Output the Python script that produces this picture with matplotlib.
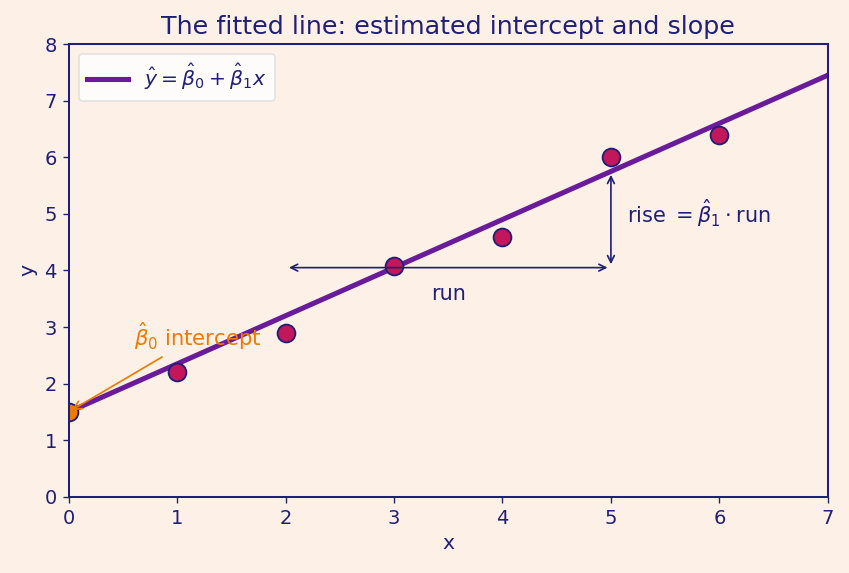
import matplotlib.pyplot as plt
import numpy as np

# data
x_obs = [1, 2, 3, 4, 5, 6]
y_obs = [2.2, 2.9, 4.08, 4.6, 6.0, 6.4]
b0 = 1.5
b1 = 0.85
line_x = [0, 7]
run_x = [2, 5]
run_y = 4.05

BG = "#fdf1e7"
NAVY = "#1f1f7a"
PURPLE = "#6a1b9a"
CRIMSON = "#c2185b"
ORANGE = "#ef7a00"


def main():
    plt.rcParams["text.color"] = NAVY
    plt.rcParams["axes.labelcolor"] = NAVY
    plt.rcParams["xtick.color"] = NAVY
    plt.rcParams["ytick.color"] = NAVY
    plt.rcParams["mathtext.fontset"] = "dejavusans"

    dpi = 122
    fig, ax = plt.subplots(figsize=(849 / dpi, 573 / dpi), dpi=dpi)
    fig.patch.set_facecolor(BG)
    ax.set_facecolor(BG)

    lx = np.array(line_x, dtype=float)
    ax.plot(lx, b0 + b1 * lx, color=PURPLE, lw=3, zorder=2,
            label=r"$\hat{y} = \hat{\beta}_0 + \hat{\beta}_1 x$")
    ax.scatter(x_obs, y_obs, s=110, color=CRIMSON, edgecolor=NAVY,
               linewidth=1.1, zorder=3)
    ax.scatter([0], [b0], s=110, color=ORANGE, edgecolor=NAVY,
               linewidth=1.1, zorder=3)

    # run arrow
    ax.annotate("", xy=(run_x[0], run_y), xytext=(run_x[1], run_y),
                arrowprops=dict(arrowstyle="<->", color=NAVY, lw=1.0),
                zorder=4)
    ax.text(3.5, 3.58, "run", ha="center", va="center", fontsize=12.3)

    # rise arrow
    top = b0 + b1 * run_x[1]
    ax.annotate("", xy=(run_x[1], top), xytext=(run_x[1], run_y),
                arrowprops=dict(arrowstyle="<->", color=NAVY, lw=1.0),
                zorder=4)
    ax.text(5.15, 5.02, r"rise $= \hat{\beta}_1 \cdot \mathrm{run}$",
            ha="left", va="center", fontsize=12.3)

    # intercept
    ax.annotate(r"$\hat{\beta}_0$ intercept", xy=(0, b0),
                xytext=(0.6, 2.84), ha="left", va="center",
                color=ORANGE, fontsize=12.5,
                arrowprops=dict(arrowstyle="->", color=ORANGE, lw=1.0),
                zorder=4)

    ax.set_xlim(0, 7)
    ax.set_ylim(0, 8)
    ax.set_xticks(range(0, 8))
    ax.set_yticks(range(0, 9))
    ax.tick_params(labelsize=11.5)
    for s in ax.spines.values():
        s.set_color(NAVY)
        s.set_linewidth(1.2)
        s.set_zorder(5)
    ax.set_xlabel("x", fontsize=12)
    ax.set_ylabel("y", fontsize=12)
    ax.set_title("The fitted line: estimated intercept and slope",
                 fontsize=15, color=NAVY)

    leg = ax.legend(loc="upper left", fontsize=12, framealpha=0.8,
                    facecolor="white", edgecolor="#dddddd")
    for t in leg.get_texts():
        t.set_color(NAVY)

    fig.subplots_adjust(left=0.081, right=0.975, top=0.923, bottom=0.133)
    fig.savefig("out.png", facecolor=BG, dpi=dpi)


if __name__ == "__main__":
    main()
